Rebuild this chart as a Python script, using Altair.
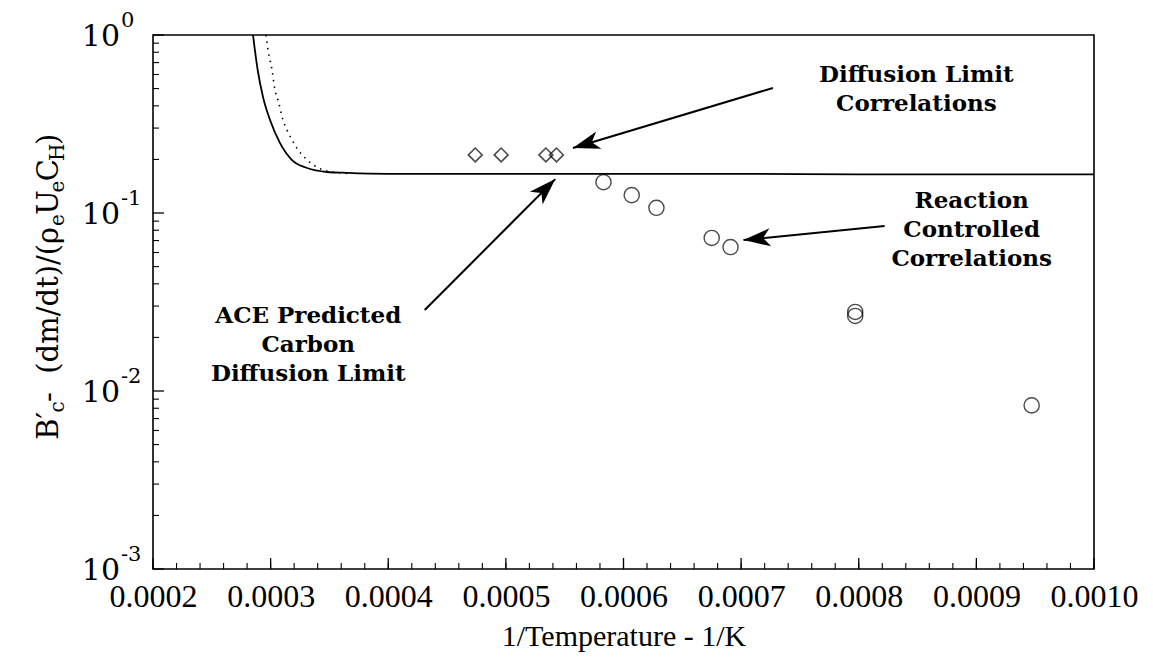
import math
import altair as alt
import pandas as pd

# ---------------- data ----------------
solid_x = [0.000285, 0.000289, 0.0002935, 0.0002995, 0.000308, 0.000318, 0.000331,
           0.000348, 0.000365, 0.0004, 0.0005, 0.0006, 0.0007, 0.0008, 0.0009, 0.0010]
solid_y = [1.0, 0.636, 0.449, 0.333, 0.247, 0.199, 0.179, 0.170, 0.168, 0.166,
           0.166, 0.166, 0.166, 0.165, 0.165, 0.165]
dotted_x = [0.000296, 0.0002978, 0.0003012, 0.0003037, 0.0003063, 0.0003105, 0.0003139,
            0.0003182, 0.0003241, 0.0003309, 0.0003394, 0.0003479, 0.000365]
dotted_y = [1.0, 0.823, 0.636, 0.491, 0.431, 0.333, 0.293, 0.257, 0.223, 0.199,
            0.181, 0.172, 0.167]

diamond_x = [0.000474, 0.000496, 0.000534, 0.000543]
diamond_y = [0.212, 0.212, 0.212, 0.212]

circle_x = [0.000583, 0.000607, 0.000628, 0.000675, 0.000691, 0.000797, 0.000797, 0.000947]
circle_y = [0.149, 0.126, 0.107, 0.0724, 0.0644, 0.0278, 0.0264, 0.0083]

x_ticks = [0.0002, 0.0003, 0.0004, 0.0005, 0.0006, 0.0007, 0.0008, 0.0009, 0.0010]
x_minor = [round(0.0002 + i * 0.00002, 6) for i in range(41)]
y_decades = [1.0, 0.1, 0.01, 0.001]
y_exponents = ["0", "-1", "-2", "-3"]
y_minor = [m * d for d in [0.1, 0.01, 0.001] for m in range(2, 10)]

ann_text = ["Diffusion Limit\nCorrelations",
            "Reaction\nControlled\nCorrelations",
            "ACE Predicted\nCarbon\nDiffusion Limit"]
ann_x = [0.000849, 0.000896, 0.000332]
ann_y = [0.545, 0.1066, 0.0241]

arrow_x1 = [0.000727, 0.000822, 0.000431]
arrow_y1 = [0.504, 0.0845, 0.0285]
arrow_x2 = [0.000557, 0.000702, 0.000542]
arrow_y2 = [0.232, 0.0705, 0.155]

x_title = "1/Temperature - 1/K"
NB = "\u00a0"
# y title pieces: (text, is_subscript)
y_title = [("B′", False), ("c", True), (NB + "-" + NB + NB + "(dm/dt)/(ρ", False), ("e", True),
           ("U", False), ("e", True), ("C", False), ("H", True), (")", False)]

# ---------------- layout ----------------
W, H = 941, 534
XD = [0.0002, 0.0010]
YD = [0.001, 1.0]
SERIF = "DejaVu Serif"
LBL = "Liberation Serif"

xs = alt.Scale(domain=XD, nice=False, zero=False)
ys = alt.Scale(type="log", domain=YD, nice=False)

xa = alt.Axis(values=x_ticks, format=".4f", labelFont=LBL, labelFontSize=32,
              labelColor="black", ticks=False, domain=False, grid=False, labelPadding=12,
              labelFlush=False, title=x_title, titleFont=LBL, titleFontSize=30,
              titleFontWeight="normal", titleColor="black", titlePadding=9)


def px(v):
    return (v - XD[0]) / (XD[1] - XD[0]) * W


def py(v):
    return -math.log10(v) / 3.0 * H


angles = []
for a, b, c, d in zip(arrow_x1, arrow_y1, arrow_x2, arrow_y2):
    dx = px(c) - px(a)
    dy = py(d) - py(b)
    angles.append(math.degrees(math.atan2(dx, -dy)) % 360)

X = alt.X("x:Q", scale=xs, axis=xa)
Y = alt.Y("y:Q", scale=ys, axis=None)

solid = alt.Chart(pd.DataFrame({"x": solid_x, "y": solid_y})).mark_line(
    color="black", strokeWidth=1.8, clip=True, interpolate="monotone"
).encode(x=X, y=Y)

dotted = alt.Chart(pd.DataFrame({"x": dotted_x, "y": dotted_y})).mark_line(
    color="black", strokeWidth=1.6, strokeDash=[1.5, 5], clip=True, interpolate="monotone"
).encode(x=X, y=Y)

diamonds = alt.Chart(pd.DataFrame({"x": diamond_x, "y": diamond_y})).mark_point(
    shape="diamond", size=190, color="black", filled=False, strokeWidth=1.6
).encode(x=X, y=Y)

circles = alt.Chart(pd.DataFrame({"x": circle_x, "y": circle_y})).mark_point(
    shape="circle", size=230, color="black", filled=False, strokeWidth=1.4
).encode(x=X, y=Y)

# ticks (inward)
xmaj = alt.Chart(pd.DataFrame({"x": x_ticks})).mark_rule(color="black", strokeWidth=1.3).encode(
    x=X, y=alt.value(H), y2=alt.value(H - 11))
xmin = alt.Chart(pd.DataFrame({"x": x_minor})).mark_rule(color="black", strokeWidth=1.1).encode(
    x=X, y=alt.value(H), y2=alt.value(H - 6))
ymaj = alt.Chart(pd.DataFrame({"y": y_decades})).mark_rule(color="black", strokeWidth=1.3).encode(
    y=Y, x=alt.value(0), x2=alt.value(11))
ymin = alt.Chart(pd.DataFrame({"y": y_minor})).mark_rule(color="black", strokeWidth=1.1).encode(
    y=Y, x=alt.value(0), x2=alt.value(6))

# y tick labels 10^n
ylab_df = pd.DataFrame({"y": y_decades, "e": y_exponents})
ylab10 = alt.Chart(ylab_df).mark_text(
    text="10", font=SERIF, fontSize=30, align="right", baseline="middle", color="black", dy=2
).encode(y=Y, x=alt.value(-33))
ylabexp = alt.Chart(ylab_df).mark_text(
    font=SERIF, fontSize=21, align="left", baseline="middle", color="black", dy=-14
).encode(y=Y, x=alt.value(-32), text="e:N")

# y title segments (rotated, reading bottom to top)
MAIN, SUB = 29, 20
wid = {"B": 0.686, "′": 0.30, "c": 0.56, NB: 0.318, "-": 0.338, "(": 0.39, ")": 0.39,
       "d": 0.64, "m": 0.948, "/": 0.337, "t": 0.402, "ρ": 0.62, "e": 0.592, "U": 0.812,
       "C": 0.734, "H": 0.837}
seg_len = [sum(wid.get(ch, 0.6) for ch in t) * (SUB if s else MAIN) * 0.95 for t, s in y_title]
total = sum(seg_len)
center = 252
start = center + total / 2
title_layers = []
off = 0.0
for (t, s), L in zip(y_title, seg_len):
    lay = alt.Chart(pd.DataFrame({"k": [0]})).mark_text(
        text=t, font=SERIF, fontSize=SUB if s else MAIN, angle=270, align="left",
        baseline="alphabetic", color="black"
    ).encode(x=alt.value(-95 + (6 if s else 0)), y=alt.value(start - off))
    title_layers.append(lay)
    off += L

# annotations
ann = alt.Chart(pd.DataFrame({"x": ann_x, "y": ann_y, "t": ann_text})).mark_text(
    font=SERIF, fontSize=23, fontWeight="bold", align="center", baseline="alphabetic",
    lineBreak="\n", lineHeight=29, color="black"
).encode(x=X, y=Y, text="t:N")

arr_df = pd.DataFrame({"x": arrow_x1, "y": arrow_y1, "x2": arrow_x2, "y2": arrow_y2,
                       "ang": angles})
shafts = alt.Chart(arr_df).mark_rule(color="black", strokeWidth=2).encode(
    x=X, y=Y, x2="x2:Q", y2="y2:Q")
heads = alt.Chart(arr_df).mark_point(
    shape="M0,0 L0.62,1.85 L0,1.35 L-0.62,1.85 Z", size=850, filled=True, color="black",
    opacity=1, strokeWidth=0
).encode(x=alt.X("x2:Q", scale=xs, axis=xa), y=alt.Y("y2:Q", scale=ys, axis=None),
         angle=alt.Angle("ang:Q", scale=None))

chart = alt.layer(
    solid, dotted, diamonds, circles, xmaj, xmin, ymaj, ymin, ylab10, ylabexp,
    ann, shafts, heads, *title_layers
).properties(
    width=W, height=H,
    autosize=alt.AutoSizeParams(type="none"),
    padding={"left": 145, "top": 27, "right": 51, "bottom": 83},
    background="white",
).configure_view(stroke="black", strokeWidth=1.6)

chart.save("out.html", embed_options={"renderer": "svg", "actions": False})
